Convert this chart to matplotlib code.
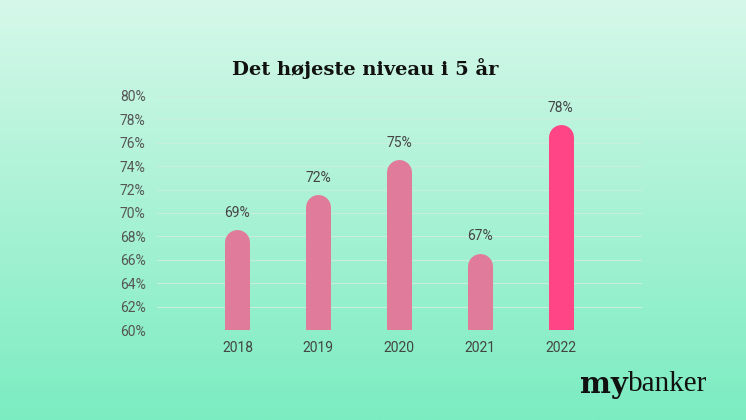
import numpy as np
import matplotlib
matplotlib.use('Agg')
import matplotlib.pyplot as plt
import matplotlib.colors as mcolors

years = ['2018', '2019', '2020', '2021', '2022']
values = [69, 72, 75, 67, 78]
colors = ['#e17b9c', '#e17b9c', '#e17b9c', '#e17b9c', '#ff4586']
yticks = list(range(60, 81, 2))

fig = plt.figure(figsize=(7.46, 4.2), dpi=100)

# gradient background
bg = fig.add_axes([0, 0, 1, 1])
cmap = mcolors.LinearSegmentedColormap.from_list('bg', ['#d6f8ea', '#7becc1'])
bg.imshow(np.linspace(0, 1, 256)[:, None], aspect='auto', cmap=cmap, extent=[0, 1, 0, 1])
bg.set_axis_off()

ax = fig.add_axes([0.21, 0.214, 0.65, 0.558])
ax.patch.set_alpha(0)
x = np.arange(len(years))
cap = 1.5
for xi, v, c in zip(x, values, colors):
    ax.plot([xi, xi], [55, v - cap], color=c, lw=18, solid_capstyle='round', zorder=3)
    ax.text(xi, v + 0.4, f'{v}%', ha='center', va='bottom', fontsize=10, color='#444444',
            family='Roboto')

ax.set_ylim(60, 80)
ax.set_xlim(-1.0, 5.0)
ax.set_yticks(yticks)
ax.set_yticklabels([f'{t}%' for t in yticks], family='Roboto', fontsize=10, color='#555555')
ax.set_xticks(x)
ax.set_xticklabels(years, family='Roboto', fontsize=10, color='#444444')
ax.tick_params(length=0, pad=8)
ax.grid(axis='y', color='#c8eedd', lw=0.8, zorder=0)
for s in ax.spines.values():
    s.set_visible(False)

fig.text(0.49, 0.838, 'Det højeste niveau i 5 år', ha='center', va='center',
         fontsize=14, fontweight='heavy', family='DejaVu Serif', color='#111111')
my = fig.text(0.778, 0.085, 'my', ha='left', va='center', fontsize=21, fontweight='bold',
              family='DejaVu Serif', color='#111111')
fig.text(0, 0, 'banker', ha='left', va='center', fontsize=21,
         family='Liberation Serif', color='#111111',
         transform=matplotlib.transforms.offset_copy(fig.transFigure, fig=fig, x=0, y=0))
fig.texts[-1].remove()
ax.annotate('banker', xy=(1, 0.5), xycoords=my, xytext=(0, 0), textcoords='offset points',
            ha='left', va='center', fontsize=21, family='Liberation Serif', color='#111111',
            annotation_clip=False)

fig.savefig('out.png', dpi=100)
